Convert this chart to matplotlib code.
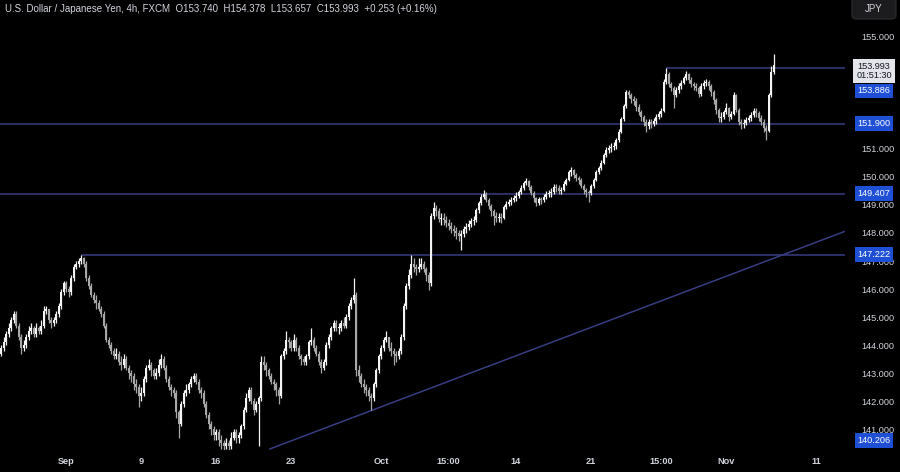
import matplotlib
matplotlib.use("Agg")
import matplotlib.pyplot as plt
from matplotlib import font_manager, transforms
from matplotlib.patches import FancyBboxPatch
import numpy as np

# ---------------- data (USD/JPY 4h, FXCM) ----------------
closes = [
    143.9, 144.1, 144.4, 144.6, 144.9, 145.1, 144.7, 144.3, 143.9, 144.0,
    144.3, 144.5, 144.6, 144.4, 144.6, 144.5, 144.7, 145.2, 145.3, 144.9,
    144.8, 144.9, 145.1, 145.4, 145.9, 146.2, 146.0, 145.9, 146.4, 146.8,
    146.9, 147.0, 147.1, 146.9, 146.4, 146.1, 145.8, 145.6, 145.5, 145.3,
    145.1, 144.7, 144.2, 144.0, 143.8, 143.6, 143.7, 143.4, 143.3, 143.5,
    143.2, 143.0, 142.9, 142.6, 142.5, 142.2, 142.3, 142.8, 143.2, 143.3,
    143.1, 142.9, 143.0, 143.3, 143.5, 143.2, 142.8, 142.5, 142.4, 142.3,
    141.6, 141.2, 141.9, 142.3, 142.4, 142.6, 142.8, 142.9, 142.7, 142.4,
    142.3, 141.9, 141.5, 141.2, 141.0, 140.8, 140.9, 140.6, 140.5, 140.4,
    140.5, 140.4, 140.7, 140.9, 140.7, 140.8, 141.1, 141.7, 142.1, 142.4,
    142.0, 141.7, 141.9, 142.1, 143.4, 143.3, 143.1, 142.9, 142.7, 142.6,
    142.4, 142.2, 143.6, 143.8, 144.2, 144.1, 143.9, 144.2, 143.9, 143.6,
    143.5, 143.4, 143.6, 144.1, 144.2, 143.9, 143.7, 143.4, 143.2, 143.4,
    144.0, 144.3, 144.6, 144.8, 144.6, 144.6, 144.8, 144.7, 145.0, 145.4,
    145.6, 145.8, 143.1, 142.9, 142.6, 142.5, 142.4, 142.2, 142.1, 142.6,
    143.1, 143.6, 143.9, 144.2, 144.3, 143.9, 143.8, 143.7, 143.6, 143.8,
    144.3, 145.4, 146.1, 146.5, 146.9, 146.8, 146.7, 146.8, 146.9, 146.7,
    146.5, 146.2, 148.6, 148.9, 148.8, 148.5, 148.54, 148.46, 148.36, 148.25,
    148.14, 148.07, 148.0, 147.9, 147.96, 148.14, 148.21, 148.32, 148.43, 148.46,
    148.82, 149.07, 149.29, 149.39, 149.18, 148.96, 148.79, 148.61, 148.54, 148.57,
    148.54, 148.93, 149.04, 149.11, 149.18, 149.25, 149.32, 149.46, 149.6, 149.79,
    149.86, 149.64, 149.43, 149.25, 149.07, 149.21, 149.18, 149.29, 149.39, 149.43,
    149.46, 149.64, 149.6, 149.5, 149.54, 149.75, 149.89, 150.18, 150.25, 150.07,
    149.96, 149.89, 149.68, 149.54, 149.46, 149.43, 149.68, 149.89, 150.18, 150.32,
    150.5, 150.79, 150.96, 151.04, 151.07, 151.11, 151.32, 151.61, 152.07, 152.54,
    153.04, 152.93, 152.79, 152.71, 152.5, 152.32, 152.14, 151.96, 151.82, 151.96,
    151.89, 152.0, 152.14, 152.25, 152.36, 153.39, 153.68, 153.32, 153.18, 152.93,
    153.11, 153.25, 153.36, 153.54, 153.68, 153.46, 153.32, 153.25, 153.18, 152.96,
    153.25, 153.36, 153.39, 153.25, 153.04, 152.75, 152.39, 152.11, 152.14, 152.32,
    152.46, 152.14, 152.25, 152.93, 152.39, 151.96, 151.89, 151.93, 152.04, 152.11,
    152.21, 152.36, 152.29, 152.11, 151.96, 151.75, 151.64, 152.93, 153.74, 153.993,
]
highs = [
    144.0, 144.3, 144.5, 144.8, 145.0, 145.2, 145.2, 144.8, 144.4, 144.2,
    144.4, 144.7, 144.8, 144.7, 144.8, 144.7, 144.9, 145.4, 145.4, 145.3,
    145.0, 145.0, 145.2, 145.5, 146.0, 146.3, 146.3, 146.1, 146.5, 146.9,
    147.0, 147.1, 147.22, 147.15, 147.0, 146.5, 146.2, 145.9, 145.8, 145.6,
    145.4, 145.2, 144.8, 144.3, 144.1, 143.9, 143.9, 143.8, 143.6, 143.7,
    143.6, 143.3, 143.1, 143.0, 142.8, 142.6, 142.5, 142.9, 143.3, 143.5,
    143.4, 143.2, 143.2, 143.5, 143.7, 143.6, 143.3, 142.9, 142.6, 142.5,
    142.4, 141.7, 142.0, 142.4, 142.6, 142.7, 142.9, 143.0, 143.0, 142.8,
    142.5, 142.4, 142.0, 141.6, 141.3, 141.1, 141.0, 141.0, 140.8, 140.6,
    140.7, 140.6, 140.9, 141.0, 141.0, 140.9, 141.2, 141.8, 142.3, 142.5,
    142.5, 142.1, 142.0, 142.2, 143.6, 143.6, 143.4, 143.2, 143.0, 142.8,
    142.7, 142.5, 143.7, 143.9, 144.5, 144.3, 144.2, 144.4, 144.3, 144.0,
    143.7, 143.6, 143.7, 144.2, 144.6, 144.3, 144.0, 143.8, 143.5, 143.5,
    144.1, 144.4, 144.7, 144.9, 144.9, 144.8, 144.9, 145.0, 145.1, 145.5,
    145.7, 146.4, 145.9, 143.3, 143.0, 142.8, 142.6, 142.5, 142.3, 142.7,
    143.2, 143.7, 144.0, 144.3, 144.5, 144.3, 144.1, 143.9, 143.8, 143.9,
    144.4, 145.5, 146.2, 146.7, 147.2, 147.1, 146.9, 147.1, 147.1, 147.0,
    146.8, 146.6, 148.7, 149.1, 149.0, 148.9, 148.7, 148.7, 148.6, 148.5,
    148.4, 148.3, 148.2, 148.1, 148.1, 148.25, 148.35, 148.45, 148.55, 148.6,
    148.9, 149.15, 149.4, 149.55, 149.45, 149.25, 149.05, 148.85, 148.75, 148.7,
    148.7, 149.0, 149.15, 149.2, 149.3, 149.35, 149.45, 149.55, 149.7, 149.85,
    149.96, 149.9, 149.7, 149.5, 149.3, 149.3, 149.3, 149.4, 149.5, 149.55,
    149.6, 149.75, 149.75, 149.7, 149.65, 149.85, 149.95, 150.25, 150.35, 150.3,
    150.15, 150.05, 149.95, 149.75, 149.6, 149.55, 149.75, 149.95, 150.25, 150.4,
    150.6, 150.85, 151.05, 151.15, 151.2, 151.25, 151.4, 151.7, 152.15, 152.6,
    153.1, 153.1, 153.0, 152.9, 152.8, 152.6, 152.4, 152.2, 152.05, 152.05,
    152.05, 152.1, 152.25, 152.35, 152.45, 153.5, 153.886, 153.75, 153.4, 153.25,
    153.2, 153.35, 153.45, 153.6, 153.79, 153.72, 153.55, 153.4, 153.35, 153.25,
    153.35, 153.45, 153.5, 153.45, 153.3, 153.1, 152.8, 152.45, 152.3, 152.4,
    152.65, 152.5, 152.35, 153.04, 152.95, 152.45, 152.05, 152.05, 152.15, 152.2,
    152.3, 152.45, 152.45, 152.35, 152.2, 152.05, 151.85, 153.0, 153.95, 154.378,
]
lows = [
    143.6, 143.8, 144.0, 144.3, 144.5, 144.8, 144.6, 144.2, 143.7, 143.8,
    143.9, 144.2, 144.4, 144.3, 144.3, 144.4, 144.4, 144.6, 145.1, 144.8,
    144.6, 144.7, 144.8, 145.0, 145.3, 145.8, 145.9, 145.7, 145.8, 146.3,
    146.7, 146.8, 146.9, 146.8, 146.3, 146.0, 145.7, 145.5, 145.3, 145.2,
    145.0, 144.6, 144.1, 143.9, 143.7, 143.5, 143.5, 143.3, 143.1, 143.2,
    143.1, 142.8, 142.7, 142.4, 142.3, 141.8, 142.0, 142.2, 142.7, 143.1,
    142.9, 142.8, 142.8, 142.9, 143.2, 143.1, 142.7, 142.4, 142.2, 142.1,
    141.4, 140.7, 141.1, 141.8, 142.2, 142.3, 142.5, 142.7, 142.6, 142.3,
    142.1, 141.8, 141.4, 141.0, 140.8, 140.6, 140.6, 140.4, 140.3, 140.25,
    140.3, 140.25, 140.3, 140.6, 140.5, 140.5, 140.7, 141.0, 141.6, 142.0,
    141.9, 141.5, 141.6, 140.4, 142.0, 143.1, 142.9, 142.8, 142.6, 142.4,
    142.2, 141.9, 142.1, 143.5, 143.7, 143.9, 143.8, 143.8, 143.8, 143.5,
    143.3, 143.3, 143.3, 143.5, 144.0, 143.8, 143.6, 143.3, 143.0, 143.1,
    143.3, 143.9, 144.2, 144.5, 144.5, 144.4, 144.5, 144.6, 144.6, 144.9,
    145.3, 145.5, 142.9, 142.7, 142.5, 142.3, 142.2, 142.0, 141.68, 142.0,
    142.5, 143.0, 143.5, 143.8, 144.1, 143.8, 143.6, 143.3, 143.4, 143.5,
    143.7, 144.2, 145.3, 146.0, 146.4, 146.6, 146.5, 146.6, 146.7, 146.6,
    146.3, 145.95, 146.1, 148.5, 148.6, 148.4, 148.3, 148.3, 148.2, 148.1,
    148.0, 147.9, 147.8, 147.7, 147.4, 147.85, 148.0, 148.1, 148.2, 148.3,
    148.4, 148.7, 149.0, 149.2, 149.1, 148.85, 148.6, 148.3, 148.4, 148.4,
    148.35, 148.5, 148.85, 148.95, 149.0, 149.1, 149.15, 149.25, 149.4, 149.55,
    149.7, 149.55, 149.35, 149.1, 148.95, 149.0, 149.05, 149.1, 149.2, 149.3,
    149.3, 149.4, 149.45, 149.4, 149.4, 149.5, 149.7, 149.85, 150.05, 149.95,
    149.85, 149.75, 149.6, 149.4, 149.3, 149.1, 149.35, 149.6, 149.85, 150.1,
    150.25, 150.45, 150.7, 150.85, 150.9, 150.95, 151.0, 151.25, 151.55, 152.0,
    152.45, 152.8, 152.65, 152.55, 152.35, 152.2, 152.0, 151.8, 151.6, 151.7,
    151.75, 151.8, 151.9, 152.05, 152.15, 152.3, 153.3, 153.2, 153.05, 152.46,
    152.85, 153.0, 153.15, 153.3, 153.45, 153.35, 153.2, 153.1, 153.05, 152.85,
    152.9, 153.15, 153.25, 153.1, 152.9, 152.6, 152.25, 151.95, 151.95, 152.05,
    152.25, 152.0, 152.05, 152.2, 152.3, 151.85, 151.7, 151.75, 151.85, 151.95,
    152.0, 152.15, 152.15, 152.0, 151.85, 151.6, 151.32, 151.6, 152.85, 153.657,
]
first_open = 143.7

# x-axis labels at bar indices
tick_bars = [26, 56, 86, 116, 152, 179, 206, 236, 264, 290, 326]
tick_labels = ["Sep", "9", "16", "23", "Oct", "15:00", "14", "21", "15:00", "Nov", "11"]

# drawn horizontal levels: price and the bar where each line starts
level_prices = [153.886, 151.900, 149.407, 147.222]
level_start_bar = [266, -1, -1, 32]
lowest_label = 140.206

# rising trendline (bar index, price)
trend_bars = [107.6, 337.6]
trend_prices = [140.30, 148.06]

# price-scale labels shown (152-154 are hidden behind the price tags)
price_ticks = [141, 142, 143, 144, 145, 146, 147, 148, 149, 150, 151, 155]
last_price = 153.993
countdown = "01:51:30"
title = ("U.S. Dollar / Japanese Yen, 4h, FXCM  O153.740  H154.378  "
         "L153.657  C153.993  +0.253 (+0.16%)")

# ---------------- style ----------------
names = {f.name for f in font_manager.fontManager.ttflist}
FONT = "Liberation Sans Narrow" if "Liberation Sans Narrow" in names else "Liberation Sans"
NARROW = FONT == "Liberation Sans Narrow"
plt.rcParams["font.family"] = [FONT, "DejaVu Sans"]

BG = "#000000"
TXT = "#d1d4dc"
LINE = "#383d82"
LABEL_BG = "#1e4fd4"
UP = "#f4f4f4"
DOWN = "#a8a8a8"

W, H = 900, 472
fig = plt.figure(figsize=(W / 100, H / 100), dpi=100, facecolor=BG)
ax = fig.add_axes([0, 22 / H, 845 / W, 450 / H])
ax.set_facecolor(BG)
for s in ax.spines.values():
    s.set_visible(False)
ax.set_xlim(-0.4, 337.6)
ax.set_ylim(140.26, 156.31)

o = np.array([first_open] + closes[:-1])
c = np.array(closes)
hi = np.array(highs)
lo = np.array(lows)
idx = np.arange(len(c))
up = c >= o

for mask, col in ((up, UP), (~up, DOWN)):
    ax.vlines(idx[mask], lo[mask], hi[mask], color=col, lw=0.9, zorder=3)
    bottom = np.minimum(o, c)[mask]
    height = np.maximum(np.abs(c - o)[mask], 0.035)
    ax.bar(idx[mask], height, bottom=bottom, width=0.8, color=col,
           linewidth=0, zorder=4)

xmax = ax.get_xlim()[1]
for p, sb in zip(level_prices, level_start_bar):
    start = ax.get_xlim()[0] if sb < 0 else sb
    ax.hlines(p, start, xmax, color=LINE, lw=1.1, zorder=2)
ax.plot(trend_bars, trend_prices, color=LINE, lw=1.1, zorder=2)

# axes ticks
fs_axis = 7.6 if NARROW else 6.6
ax.yaxis.tick_right()
ax.set_yticks(price_ticks)
ax.set_yticklabels([f"{v:.3f}" for v in price_ticks])
ax.tick_params(axis="y", length=0, pad=11.5, labelsize=fs_axis, labelcolor=TXT)
ax.set_xticks(tick_bars)
ax.set_xticklabels(tick_labels, fontweight="bold")
ax.tick_params(axis="x", length=0, pad=5, labelsize=fs_axis, labelcolor=TXT)

# right-side price labels
trans = transforms.blended_transform_factory(fig.transFigure, ax.transData)
lx = 874 / W
box = dict(boxstyle="square,pad=0.32", fc=LABEL_BG, ec="none")
offsets = {153.886: -23, 151.900: 0, 149.407: 0, 147.222: 0}
for p in level_prices:
    t = transforms.offset_copy(trans, fig=fig, y=offsets[p], units="dots")
    fig.text(lx, p, f"{p:.3f}", transform=t, ha="center", va="center",
             fontsize=fs_axis, color="white", bbox=box, zorder=5)
t = transforms.offset_copy(trans, fig=fig, y=11, units="dots")
fig.text(lx, lowest_label, f"{lowest_label:.3f}", transform=t, ha="center",
         va="center", fontsize=fs_axis, color="white", bbox=box, zorder=5)
t = transforms.offset_copy(trans, fig=fig, y=-6, units="dots")
fig.text(lx, last_price, f"{last_price:.3f}\n{countdown}", transform=t,
         ha="center", va="center", fontsize=fs_axis, color="#131722",
         linespacing=1.05,
         bbox=dict(boxstyle="square,pad=0.35", fc="#e3e5ea", ec="none"), zorder=5)

# currency button
fig.patches.append(FancyBboxPatch((852 / W, 1 - 19 / H), 44 / W, 24 / H,
                                  boxstyle="round,pad=0,rounding_size=0.006",
                                  transform=fig.transFigure, fc="#1c1c1e",
                                  ec="#2e2e32", lw=0.8, zorder=4))
fig.text(874 / W, 1 - 9 / H, "JPY", ha="center", va="center",
         fontsize=fs_axis + 0.4, color=TXT, zorder=6)

# header
fig.text(5 / W, 1 - 9 / H, title, ha="left", va="center",
         fontsize=8.0 if NARROW else 7.0, color=TXT, zorder=6)

fig.savefig("out.png", dpi=100, facecolor=BG)
